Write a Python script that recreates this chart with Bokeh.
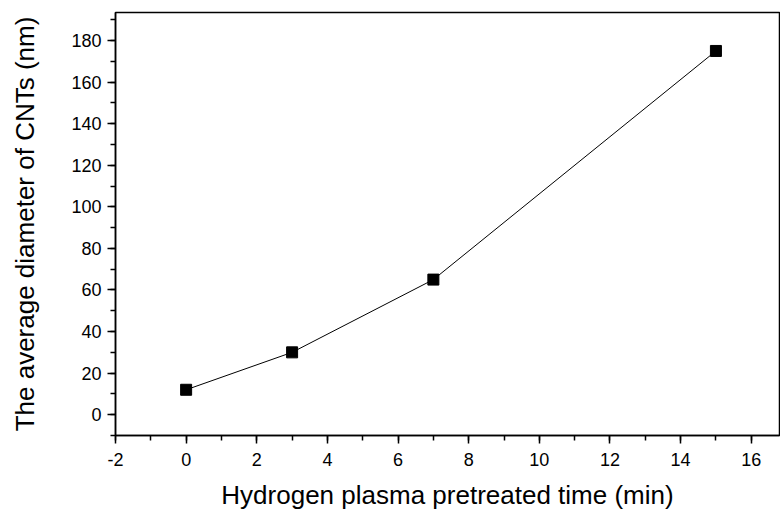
from bokeh.plotting import figure
from bokeh.embed import file_html
from bokeh.resources import INLINE
from bokeh.models import Range1d, FixedTicker

time_min = [0, 3, 7, 15]
diameter_nm = [12, 30, 65, 175]
x_ticks = [-2, 0, 2, 4, 6, 8, 10, 12, 14, 16]
x_tick_labels = ["-2", "0", "2", "4", "6", "8", "10", "12", "14", "16"]
y_ticks = [0, 20, 40, 60, 80, 100, 120, 140, 160, 180]

p = figure(width=780, height=514, output_backend="svg", toolbar_location=None,
           x_range=Range1d(-2, 16.8), y_range=Range1d(-10, 193.5),
           min_border_left=115, min_border_right=1, min_border_top=12, min_border_bottom=79)
p.line(time_min, diameter_nm, line_color="black", line_width=1)
p.scatter(time_min, diameter_nm, marker="square", size=11, fill_color="black", line_color="black")

p.xgrid.visible = False
p.ygrid.visible = False
p.outline_line_color = "black"
p.outline_line_width = 1.5

p.xaxis.ticker = FixedTicker(ticks=x_ticks, minor_ticks=list(range(-2, 17)))
p.yaxis.ticker = FixedTicker(ticks=y_ticks, minor_ticks=list(range(-10, 191, 10)))
p.xaxis.major_label_overrides = {t: s for t, s in zip(x_ticks, x_tick_labels)}
for ax in (p.xaxis[0], p.yaxis[0]):
    ax.axis_line_color = "black"
    ax.axis_line_width = 1.5
    ax.major_tick_line_color = "black"
    ax.major_tick_line_width = 1.5
    ax.minor_tick_line_color = "black"
    ax.minor_tick_line_width = 1.5
    ax.major_tick_out = 8
    ax.major_tick_in = 0
    ax.minor_tick_out = 5
    ax.minor_tick_in = 0
    ax.major_label_text_font = "Liberation Sans"
    ax.major_label_text_font_size = "18px"
    ax.major_label_text_color = "black"
    ax.axis_label_text_font = "Liberation Sans"
    ax.axis_label_text_font_size = "26px"
    ax.axis_label_text_font_style = "normal"
    ax.axis_label_text_color = "black"

p.xaxis.axis_label = "Hydrogen plasma pretreated time (min)"
p.yaxis.axis_label = "The average diameter of CNTs (nm)"
p.xaxis.major_label_standoff = 9
p.xaxis.axis_label_standoff = 11
p.yaxis.major_label_standoff = 6
p.yaxis.axis_label_standoff = 28

open("out.html", "w").write(file_html(p, INLINE))
